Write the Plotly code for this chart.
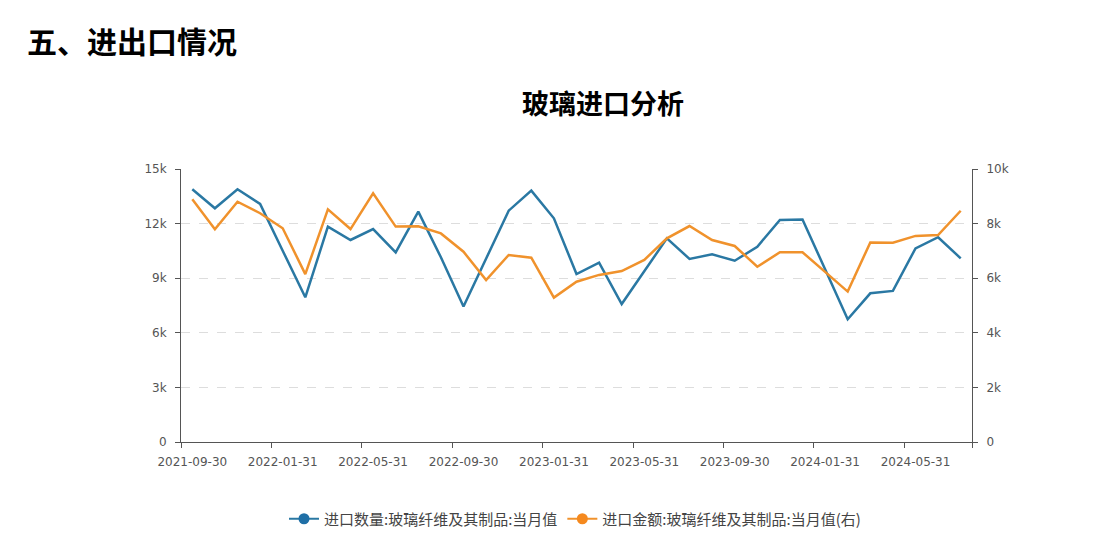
import plotly.graph_objects as go

# ---- data ----
dates = ["2021-09-30", "2021-10-31", "2021-11-30", "2021-12-31",
         "2022-01-31", "2022-02-28", "2022-03-31", "2022-04-30", "2022-05-31", "2022-06-30",
         "2022-07-31", "2022-08-31", "2022-09-30", "2022-10-31", "2022-11-30", "2022-12-31",
         "2023-01-31", "2023-02-28", "2023-03-31", "2023-04-30", "2023-05-31", "2023-06-30",
         "2023-07-31", "2023-08-31", "2023-09-30", "2023-10-31", "2023-11-30", "2023-12-31",
         "2024-01-31", "2024-02-29", "2024-03-31", "2024-04-30", "2024-05-31", "2024-06-30",
         "2024-07-31"]

import_qty = [13890, 12840, 13890, 13080, 10510, 7950, 11830, 11100, 11700, 10420,
              12660, 10150, 7440, 10070, 12710, 13810, 12290, 9230, 9850, 7580,
              9360, 11190, 10060, 10310, 9960, 10730, 12200, 12230, 9490, 6740,
              8170, 8300, 10640, 11250, 10090]

import_amt = [8890, 7790, 8800, 8380, 7830, 6150, 8520, 7800, 9110, 7890,
              7900, 7640, 6970, 5930, 6850, 6750, 5290, 5870, 6120, 6260,
              6670, 7460, 7910, 7400, 7180, 6420, 6950, 6950, 6230, 5510,
              7310, 7300, 7550, 7580, 8470]

name_qty = "进口数量:玻璃纤维及其制品:当月值"
name_amt = "进口金额:玻璃纤维及其制品:当月值(右)"

page_title = "五、进出口情况"
chart_title = "玻璃进口分析"

x_tickvals = dates[::4]
left_tickvals = [0, 3000, 6000, 9000, 12000, 15000]
left_ticktext = ["0", "3k", "6k", "9k", "12k", "15k"]
right_tickvals = [0, 2000, 4000, 6000, 8000, 10000]
right_ticktext = ["0", "2k", "4k", "6k", "8k", "10k"]

# ---- style ----
BLUE = "#2a78a3"
ORANGE = "#f0922c"
AXIS = "#555555"
TICKFONT = dict(family="DejaVu Sans", size=12, color="#555555")

n = len(dates)
# tick marks sit on category boundaries (left edge of each labelled category, plus axis end)
boundary_ticks = [i - 0.5 for i in range(0, n, 4)] + [n - 0.5]

fig = go.Figure()

fig.add_trace(go.Scatter(x=dates, y=import_qty, mode="lines", name=name_qty,
                         line=dict(color=BLUE, width=2.5), showlegend=False, yaxis="y"))
fig.add_trace(go.Scatter(x=dates, y=import_amt, mode="lines", name=name_amt,
                         line=dict(color=ORANGE, width=2.5), showlegend=False, yaxis="y2"))

# legend entries (line with circle marker)
fig.add_trace(go.Scatter(x=[None], y=[None], mode="lines+markers", name=name_qty,
                         line=dict(color=BLUE, width=2), marker=dict(size=11, color="#1f6fa6"),
                         xaxis="x2", yaxis="y"))
fig.add_trace(go.Scatter(x=[None], y=[None], mode="lines+markers", name=name_amt,
                         line=dict(color=ORANGE, width=2), marker=dict(size=11, color="#f5891e"),
                         yaxis="y2"))

fig.update_layout(
    width=1101, height=533,
    margin=dict(l=181, r=129, t=169, b=91, autoexpand=False),
    paper_bgcolor="white", plot_bgcolor="white",
    showlegend=True,
    legend=dict(orientation="h", xref="container", yref="container",
                x=575 / 1101, xanchor="center", y=(533 - 519) / 533, yanchor="middle",
                font=dict(family="Noto Sans CJK SC", size=15, color="#444444"),
                itemwidth=30, bgcolor="rgba(0,0,0,0)"),
    xaxis=dict(type="category", range=[-0.5, n - 0.5],
               tickmode="array", tickvals=x_tickvals, ticktext=x_tickvals,
               ticks="", tickangle=0, automargin=False, ticklabelstandoff=9,
               showline=True, linecolor=AXIS, linewidth=1, showgrid=False,
               tickfont=TICKFONT, fixedrange=True),
    xaxis2=dict(overlaying="x", side="bottom", anchor="y", type="linear",
                range=[-0.5, n - 0.5], tickmode="array", tickvals=boundary_ticks,
                ticktext=[""] * len(boundary_ticks), ticks="outside", ticklen=5,
                tickcolor=AXIS, showline=False, showgrid=False, zeroline=False,
                automargin=False, fixedrange=True),
    yaxis=dict(range=[0, 15000], tickmode="array", tickvals=left_tickvals,
               ticktext=left_ticktext, ticks="outside", ticklen=5, tickcolor=AXIS,
               showline=True, linecolor=AXIS, linewidth=1, automargin=False,
               showgrid=True, gridcolor="#dddddd", griddash="dash", gridwidth=1,
               zeroline=False, tickfont=TICKFONT, ticklabelstandoff=6),
    yaxis2=dict(range=[0, 10000], overlaying="y", side="right", tickmode="array",
                tickvals=right_tickvals, ticktext=right_ticktext, ticks="outside",
                ticklen=5, tickcolor=AXIS, showline=True, linecolor=AXIS, linewidth=1,
                automargin=False,
                showgrid=False, zeroline=False, tickfont=TICKFONT, ticklabelstandoff=6),
    annotations=[
        dict(text=page_title, xref="paper", yref="paper", x=(25 - 181) / 791, y=1.474,
             xanchor="left", yanchor="middle", showarrow=False,
             font=dict(family="Noto Sans CJK SC", size=30, color="#000000", weight="bold")),
        dict(text=chart_title, xref="paper", yref="paper", x=0.5329, y=1.245,
             xanchor="center", yanchor="middle", showarrow=False,
             font=dict(family="Noto Sans CJK SC", size=27, color="#000000", weight="bold")),
    ],
)

fig.write_html("out.html")
